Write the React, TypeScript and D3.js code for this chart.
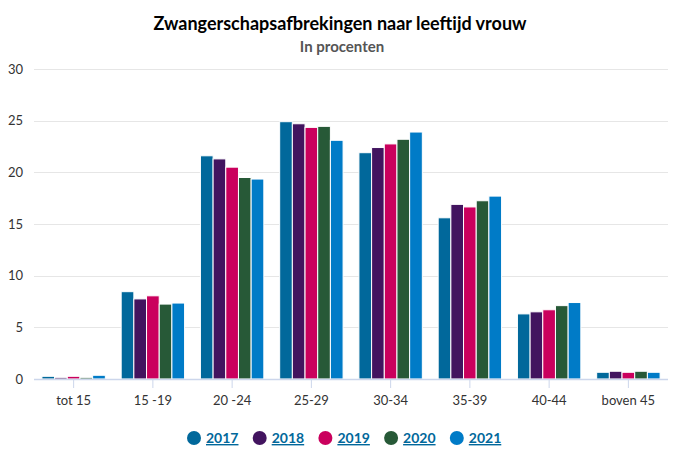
import React from "react";
import * as d3 from "d3";

const categories = ["tot 15", "15 -19", "20 -24", "25-29", "30-34", "35-39", "40-44", "boven 45"];
const years = ["2017", "2018", "2019", "2020", "2021"];
const values2017 = [0.26, 8.45, 21.6, 24.9, 21.9, 15.6, 6.3, 0.65];
const values2018 = [0.16, 7.75, 21.3, 24.7, 22.4, 16.9, 6.5, 0.75];
const values2019 = [0.26, 8.05, 20.5, 24.35, 22.75, 16.65, 6.7, 0.65];
const values2020 = [0.16, 7.25, 19.5, 24.45, 23.2, 17.25, 7.1, 0.75];
const values2021 = [0.36, 7.35, 19.35, 23.1, 23.9, 17.7, 7.4, 0.65];
const seriesValues = [values2017, values2018, values2019, values2020, values2021];
const colors = ["#01689b", "#42145f", "#ca005d", "#275937", "#007bc7"];
const yTicks = [0, 5, 10, 15, 20, 25, 30];

const W = 680;
const H = 463;
const margin = { left: 34, right: 12, top: 69, bottom: 84 };
const FONT = "Lato, 'Noto Sans', sans-serif";

export default function App() {
  const x0b = d3.scaleBand<string>().domain(categories).range([margin.left, W - margin.right]);
  const groupPad = x0b.bandwidth() * 0.1;
  const x1 = d3
    .scaleBand<string>()
    .domain(years)
    .range([0, x0b.bandwidth() - 2 * groupPad]);
  const y = d3.scaleLinear().domain([0, 30]).range([H - margin.bottom, margin.top]);

  const legendStart = 194;
  const legendStep = 65.7;

  return (
    <div style={{ position: "absolute", left: 0, top: 0 }}>
      <svg width={W} height={H} style={{ display: "block", background: "#fff" }} fontFamily={FONT}>
        <text x={340} y={30} textAnchor="middle" fontSize={18} fontWeight={700} fill="#000">
          Zwangerschapsafbrekingen naar leeftijd vrouw
        </text>
        <text x={342} y={52} textAnchor="middle" fontSize={15} fontWeight={700} fill="#555">
          In procenten
        </text>
        {yTicks.map((t) => (
          <g key={t}>
            {t !== 0 && (
              <line
                x1={margin.left}
                x2={W - margin.right}
                y1={Math.round(y(t)) + 0.5}
                y2={Math.round(y(t)) + 0.5}
                stroke="#e6e6e6"
              />
            )}
            <text x={23} y={y(t) + 4.5} textAnchor="end" fontSize={13} fill="#333">
              {t}
            </text>
          </g>
        ))}
        {categories.map((c, ci) => (
          <g key={c}>
            {years.map((yr, si) => {
              const v = seriesValues[si][ci];
              const bx = (x0b(c) as number) + groupPad + (x1(yr) as number);
              return (
                <rect
                  key={yr}
                  x={bx}
                  y={y(v)}
                  width={x1.bandwidth()}
                  height={y(0) - y(v)}
                  fill={colors[si]}
                  stroke="#ffffff"
                  strokeWidth={1}
                />
              );
            })}
          </g>
        ))}
        <line
          x1={margin.left}
          x2={W - margin.right}
          y1={y(0) + 0.5}
          y2={y(0) + 0.5}
          stroke="#ccd6eb"
          strokeWidth={1.5}
        />
        {categories.map((c) => {
          const cx = (x0b(c) as number) + x0b.bandwidth() / 2;
          return (
            <g key={c}>
              <line x1={cx} x2={cx} y1={y(0) + 1} y2={y(0) + 9} stroke="#ccd6eb" />
              <text x={cx} y={y(0) + 26} textAnchor="middle" fontSize={13} fill="#333">
                {c}
              </text>
            </g>
          );
        })}
        {years.map((yr, i) => {
          const cx = legendStart + i * legendStep;
          return (
            <g key={yr}>
              <circle cx={cx} cy={438} r={7} fill={colors[i]} />
              <text
                x={cx + 12}
                y={443}
                fontSize={14}
                fontWeight={700}
                fill="#01689b"
                textDecoration="underline"
              >
                {yr}
              </text>
            </g>
          );
        })}
      </svg>
    </div>
  );
}
